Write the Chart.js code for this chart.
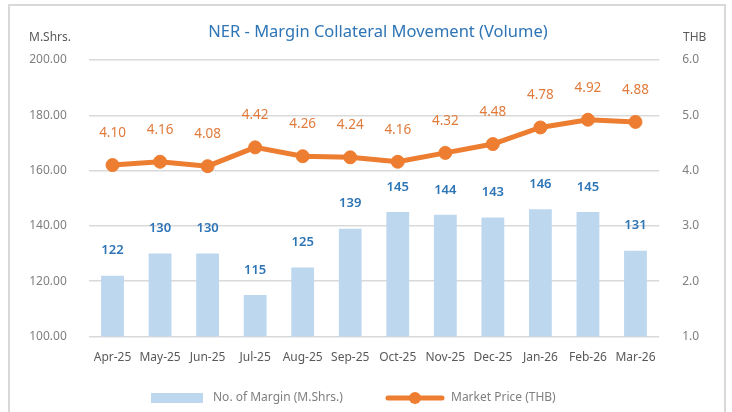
<!DOCTYPE html>
<html>
<head>
<meta charset="utf-8">
<script src="https://cdn.jsdelivr.net/npm/chart.js@4.4.1/dist/chart.umd.min.js"></script>
<style>
  html, body { margin:0; padding:0; background:#fff; }
  #wrap { position:relative; width:732px; height:412px; overflow:hidden; }
  #frame { position:absolute; left:8px; top:4px; width:714px; height:430px; border:2px solid #d9d9d9; }
  #chart { position:absolute; left:0; top:0; }
</style>
</head>
<body>
<div id="wrap">
  <div id="frame"></div>
  <canvas id="chart" width="732" height="412"></canvas>
</div>
<script>
// datos
const months = ["Apr-25","May-25","Jun-25","Jul-25","Aug-25","Sep-25","Oct-25","Nov-25","Dec-25","Jan-26","Feb-26","Mar-26"];
const marginVolume = [122,130,130,115,125,139,145,144,143,146,145,131];
const marketPrice = [4.10,4.16,4.08,4.42,4.26,4.24,4.16,4.32,4.48,4.78,4.92,4.88];

const FONT = "'Noto Sans', 'DejaVu Sans', sans-serif";
const BAR_COLOR = "#bdd7ee";
const LINE_COLOR = "#ed7d31";
const GRID = "#d9d9d9";
const TICK = "#7f7f7f";

// etiquetas + titulos + leyenda
const decoPlugin = {
  id: "deco",
  afterDatasetsDraw(chart){
    const ctx = chart.ctx;
    ctx.save();
    ctx.textAlign = "center";
    ctx.textBaseline = "middle";

    const bars = chart.getDatasetMeta(0).data;
    ctx.font = "600 13px " + FONT;
    ctx.fillStyle = "#2e75b6";
    bars.forEach((b, i) => ctx.fillText(String(marginVolume[i]), b.x, b.y - 25));

    const pts = chart.getDatasetMeta(1).data;
    ctx.font = "13.5px " + FONT;
    ctx.fillStyle = "#e07b3c";
    pts.forEach((p, i) => ctx.fillText(marketPrice[i].toFixed(2), p.x, p.y - 32));
    ctx.restore();
  },
  afterDraw(chart){
    const ctx = chart.ctx;
    ctx.save();
    ctx.textBaseline = "middle";

    // titulo
    ctx.textAlign = "center";
    ctx.font = "16.5px " + FONT;
    ctx.fillStyle = "#2e75b6";
    ctx.fillText("NER - Margin Collateral Movement (Volume)", 378, 32);

    // titulos de ejes
    ctx.font = "12px " + FONT;
    ctx.fillStyle = "#595959";
    ctx.textAlign = "left";
    ctx.fillText("M.Shrs.", 29, 38);
    ctx.fillText("THB", 683, 38);

    // leyenda
    ctx.fillStyle = BAR_COLOR;
    ctx.fillRect(151, 393, 52, 10);
    ctx.fillStyle = "#7f7f7f";
    ctx.font = "12px " + FONT;
    ctx.fillText("No. of Margin (M.Shrs.)", 213, 398);

    ctx.strokeStyle = LINE_COLOR;
    ctx.lineWidth = 5;
    ctx.lineCap = "round";
    ctx.beginPath();
    ctx.moveTo(388, 398);
    ctx.lineTo(442, 398);
    ctx.stroke();
    ctx.fillStyle = LINE_COLOR;
    ctx.beginPath();
    ctx.arc(415, 398, 6, 0, Math.PI * 2);
    ctx.fill();
    ctx.fillStyle = "#7f7f7f";
    ctx.fillText("Market Price (THB)", 451, 398);
    ctx.restore();
  }
};

new Chart(document.getElementById("chart"), {
  type: "bar",
  data: {
    labels: months,
    datasets: [
      {
        type: "bar",
        label: "No. of Margin (M.Shrs.)",
        data: marginVolume,
        backgroundColor: BAR_COLOR,
        yAxisID: "y",
        barPercentage: 0.48,
        categoryPercentage: 1,
        order: 2
      },
      {
        type: "line",
        label: "Market Price (THB)",
        data: marketPrice,
        borderColor: LINE_COLOR,
        backgroundColor: LINE_COLOR,
        borderWidth: 5,
        pointRadius: 6.5,
        pointBorderWidth: 1,
        pointBorderColor: LINE_COLOR,
        pointBackgroundColor: LINE_COLOR,
        tension: 0,
        yAxisID: "y1",
        order: 1
      }
    ]
  },
  options: {
    responsive: false,
    animation: false,
    layout: { padding: { top: 60, left: 0, right: 0, bottom: 0 } },
    plugins: {
      legend: { display: false },
      title: { display: false },
      tooltip: { enabled: false }
    },
    scales: {
      x: {
        grid: { display: false, drawTicks: false },
        border: { display: false },
        ticks: { color: "#595959", font: { family: FONT, size: 12 }, padding: 14, maxRotation: 0, autoSkip: false },
        afterFit: s => { s.height = 75.5; }
      },
      y: {
        position: "left",
        min: 100, max: 200,
        grid: { color: GRID, lineWidth: 1.5, drawTicks: false },
        border: { display: false },
        ticks: { stepSize: 20, color: TICK, padding: 22, font: { family: FONT, size: 12 }, callback: v => v.toFixed(2) },
        afterFit: s => { s.width = 88.75; }
      },
      y1: {
        position: "right",
        min: 1, max: 6,
        grid: { display: false, drawTicks: false },
        border: { display: false },
        ticks: { stepSize: 1, color: TICK, padding: 23, font: { family: FONT, size: 12 }, callback: v => v.toFixed(1) },
        afterFit: s => { s.width = 72.75; }
      }
    }
  },
  plugins: [decoPlugin]
});
</script>
</body>
</html>
